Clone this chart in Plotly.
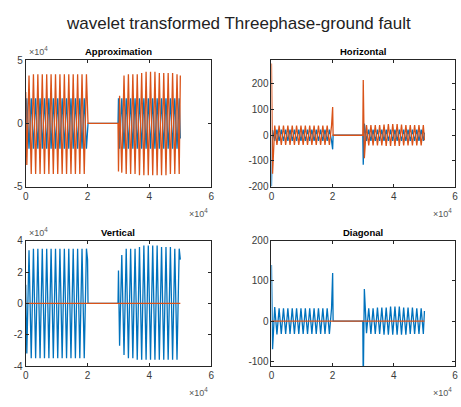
import plotly.graph_objects as go

# ---------------- data ----------------
# shared x positions (samples) of the waveform extremes
seg1_x = [0, 360, 1070, 1790, 2500, 3210, 3930, 4640, 5360, 6070, 6790, 7500, 8210, 8930, 9640,
          10360, 11070, 11790, 12500, 13210, 13930, 14640, 15360, 16070, 16790, 17500, 18210,
          18930, 19640, 20000]
mid_x = [20150, 29850]
seg2_x = [30000, 30360, 31070, 31790, 32500, 33210, 33930, 34640, 35360, 36070, 36790, 37500,
          38210, 38930, 39640, 40360, 41070, 41790, 42500, 43210, 43930, 44640, 45360, 46070,
          46790, 47500, 48210, 48930, 49640, 50000]
wave_x = seg1_x + mid_x + seg2_x

flat_x = [0, 50000]
flat_y = [0, 0]

# Approximation
approx_blue = ([-12000, 20000, -20000, 20000, -20000, 20000, -20000, 20000, -20000, 20000,
                -20000, 20000, -20000, 20000, -20000, 20000, -20000, 20000, -20000, 20000,
                -20000, 20000, -20000, 20000, -20000, 20000, -20000, 20000, -20000, 0]
               + [0, 0]
               + [20000, -20000, 20000, -20000, 20000, -20000, 20000, -20000, 20000, -20000,
                  20000, -20000, 20000, -20000, 20000, -20000, 20000, -20000, 20000, -20000,
                  20000, -20000, 20000, -20000, 20000, -20000, 20000, -20000, 20000, -12000])
approx_orange = ([25000, -33000, 38000, -40000, 39000, -40000, 39000, -40000, 39000, -40000,
                  39000, -40000, 39000, -40000, 39000, -40000, 39000, -40000, 39000, -40000,
                  39000, -40000, 39000, -40000, 39000, -40000, 39000, -40000, 39000, 0]
                 + [0, 0]
                 + [-38000, 22000, -39000, 38000, -40000, 39000, -40000, 39000, -40000, 39000,
                    -41000, 40000, -41000, 41000, -41000, 41000, -41000, 41000, -41000, 40000,
                    -41000, 40000, -41000, 40000, -40000, 40000, -40000, 39000, -40000, 38000])

# Horizontal
horiz_blue = ([-200, 20, -22, 22, -22, 22, -22, 22, -22, 22, -22, 22, -22, 22, -22,
               22, -22, 22, -22, 22, -22, 22, -22, 22, -22, 22, -22, 22, -22, -55]
              + [0, 0]
              + [-115, 45, -22, 22, -22, 22, -22, 22, -22, 22, -22, 22, -22, 22, -22,
                 22, -22, 22, -22, 22, -22, 22, -22, 22, -22, 22, -22, 22, -22, 10])
horiz_orange = ([280, -150, 38, -38, 38, -38, 38, -38, 38, -38, 38, -38, 38, -38, 38,
                 -38, 38, -38, 38, -38, 38, -38, 38, -38, 38, -38, 38, -38, 38, 110]
                + [0, 0]
                + [215, -90, 40, -40, 40, -40, 40, -40, 40, -40, 42, -42, 44, -42, 44,
                   -42, 44, -42, 42, -40, 40, -40, 40, -40, 40, -40, 40, -40, 40, -20])

# Vertical
vert_blue = ([12000, -32000, 34000, -35000, 35000, -35000, 35000, -35000, 35000, -35000,
              35000, -35000, 35000, -35000, 35000, -35000, 35000, -35000, 35000, -35000,
              35000, -35000, 35000, -35000, 35000, -35000, 35000, -35000, 35000, 28000]
             + [0, 0]
             + [21000, -27000, 31000, -33000, 35000, -35000, 35000, -35000, 35000, -36000,
                36000, -36000, 37000, -36000, 37000, -36000, 37000, -36000, 37000, -36000,
                36000, -36000, 36000, -36000, 36000, -36000, 35000, -36000, 35000, 28000])

# Diagonal
diag_blue = ([140, -70, 35, -33, 32, -32, 32, -32, 32, -32, 32, -32, 32, -32, 32,
              -32, 32, -32, 32, -32, 32, -32, 32, -32, 32, -32, 32, -32, 32, 120]
             + [0, 0]
             + [-160, 80, -30, 32, -32, 32, -32, 34, -32, 34, -34, 34, -34, 36, -34,
                36, -34, 36, -34, 34, -34, 34, -32, 34, -32, 32, -32, 32, -32, 25])

x_tickvals = [0, 20000, 40000, 60000]
x_ticktext = ["0", "2", "4", "6"]

BLUE = "#0072BD"
ORANGE = "#D95319"
AX = "#262626"
TICK = "#3a3a3a"
FONT = "Liberation Sans"

W, H = 461, 407


def px_x(p):
    return p / W


def px_y(p):
    return 1 - p / H


fig = go.Figure()

# axes boxes in pixel coords: (left, right, top, bottom)
boxes = {
    1: (23, 211, 56, 186),
    2: (272, 458, 56, 186),
    3: (23, 211, 242, 371),
    4: (272, 458, 242, 371),
}

series = {
    1: [(wave_x, approx_blue, BLUE), (wave_x, approx_orange, ORANGE)],
    2: [(wave_x, horiz_blue, BLUE), (wave_x, horiz_orange, ORANGE)],
    3: [(wave_x, vert_blue, BLUE), (flat_x, flat_y, ORANGE)],
    4: [(wave_x, diag_blue, BLUE), (flat_x, flat_y, ORANGE)],
}

yaxes = {
    1: dict(range=[-50000, 50000], tickvals=[-50000, 0, 50000], ticktext=["-5", "0", "5"]),
    2: dict(range=[-200, 292], tickvals=[-200, -100, 0, 100, 200],
            ticktext=["-200", "-100", "0", "100", "200"]),
    3: dict(range=[-40000, 40000], tickvals=[-40000, -20000, 0, 20000, 40000],
            ticktext=["-4", "-2", "0", "2", "4"]),
    4: dict(range=[-112, 200], tickvals=[-100, 0, 100, 200], ticktext=["-100", "0", "100", "200"]),
}

titles = {1: "Approximation", 2: "Horizontal", 3: "Vertical", 4: "Diagonal"}

axis_common = dict(showline=True, linecolor=AX, linewidth=1, mirror="ticks", ticks="inside",
                   ticklen=3, tickcolor=AX, showgrid=False, zeroline=False,
                   tickfont=dict(family=FONT, size=10, color=TICK), fixedrange=True)

annotations = []
for i in range(1, 5):
    l, r, t, b = boxes[i]
    xa = "x" if i == 1 else f"x{i}"
    ya = "y" if i == 1 else f"y{i}"
    for xs, ys, col in series[i]:
        fig.add_trace(go.Scatter(x=xs, y=ys, mode="lines", line=dict(color=col, width=1.3),
                                 xaxis=xa, yaxis=ya, showlegend=False, hoverinfo="skip"))
    fig.layout[f"xaxis{'' if i == 1 else i}"] = dict(
        domain=[px_x(l), px_x(r)], anchor=ya, range=[0, 60000],
        tickvals=x_tickvals, ticktext=x_ticktext, **axis_common)
    fig.layout[f"yaxis{'' if i == 1 else i}"] = dict(
        domain=[px_y(b), px_y(t)], anchor=xa, **yaxes[i], **axis_common)
    annotations.append(dict(text="<b>" + titles[i] + "</b>", x=px_x((l + r) / 2), y=px_y(t - 1),
                            xref="paper", yref="paper", xanchor="center", yanchor="bottom",
                            showarrow=False, font=dict(family=FONT, size=9.5, color="black")))
    annotations.append(dict(text="×10<sup>4</sup>", x=px_x(r - 1), y=px_y(b + 27),
                            xref="paper", yref="paper", xanchor="right", yanchor="middle",
                            showarrow=False, font=dict(family=FONT, size=9, color="#555555")))
    if i in (1, 3):
        annotations.append(dict(text="×10<sup>4</sup>", x=px_x(l + 1), y=px_y(t - 1),
                                xref="paper", yref="paper", xanchor="left", yanchor="bottom",
                                showarrow=False, font=dict(family=FONT, size=9, color="#555555")))

annotations.append(dict(text="wavelet transformed Threephase-ground fault", x=px_x(239), y=px_y(18),
                        xref="paper", yref="paper", xanchor="center", yanchor="middle",
                        showarrow=False, font=dict(family=FONT, size=17, color="#222222")))

fig.update_layout(width=W, height=H, margin=dict(l=0, r=0, t=0, b=0),
                  paper_bgcolor="white", plot_bgcolor="white", annotations=annotations,
                  showlegend=False)

fig.write_html("out.html", config={"displayModeBar": False},
               post_script="document.body.style.margin='0';document.body.style.overflow='hidden';")
